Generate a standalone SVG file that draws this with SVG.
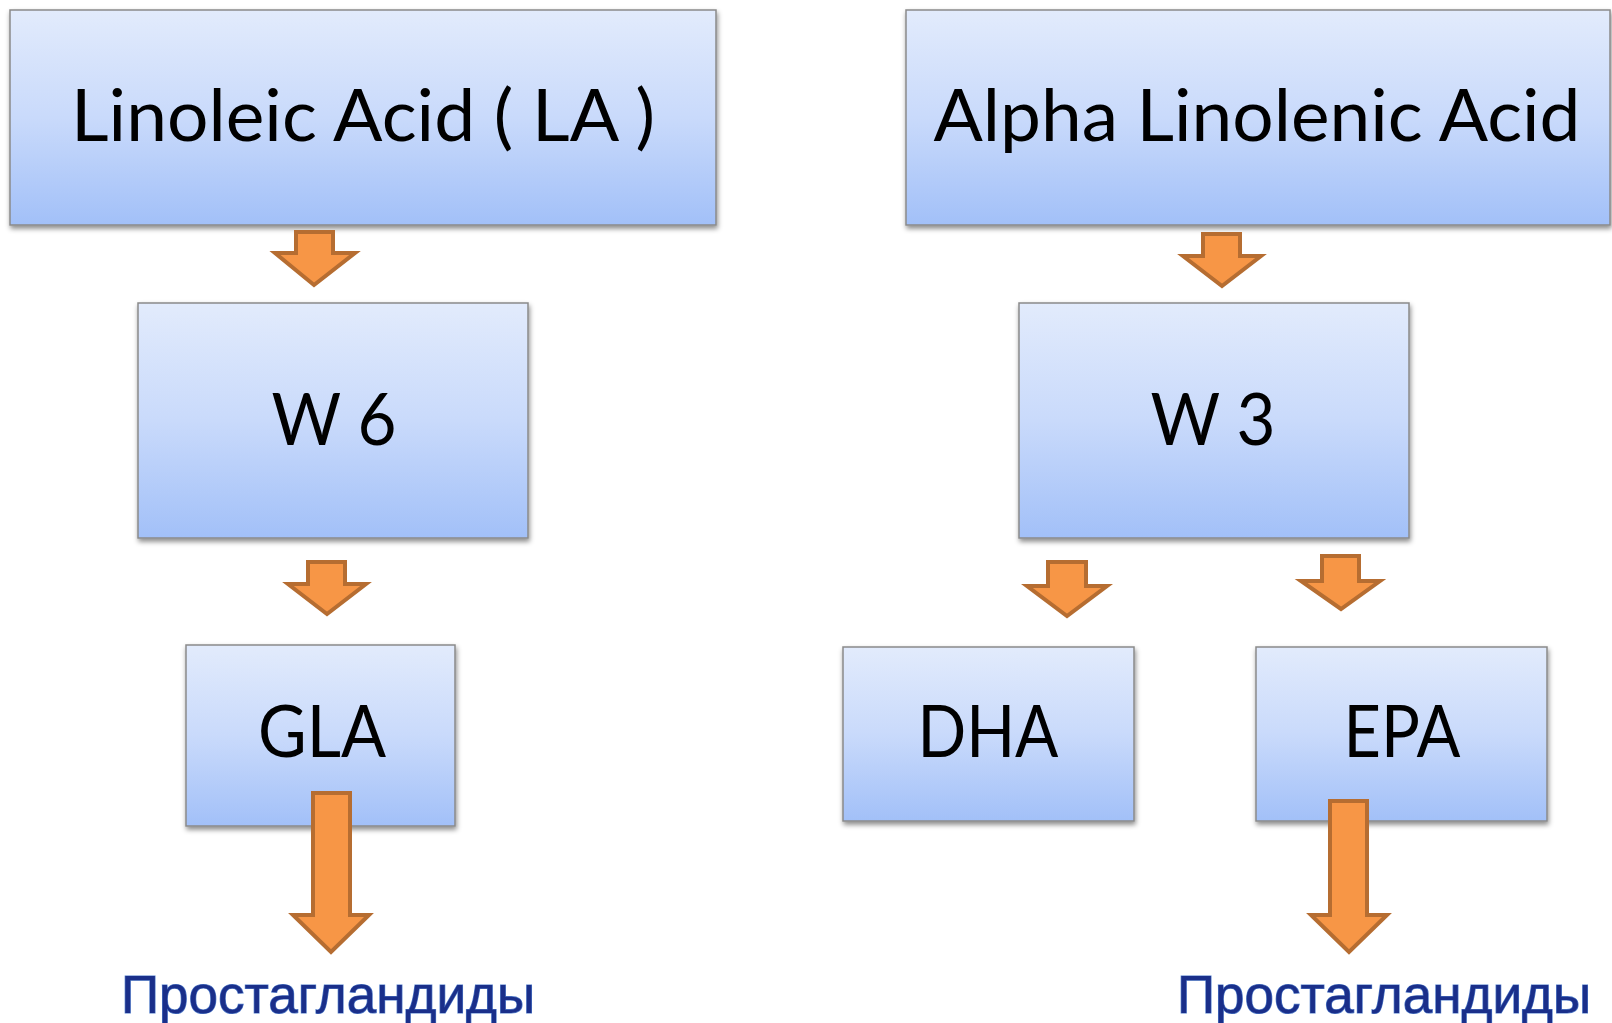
<svg xmlns="http://www.w3.org/2000/svg" width="1612" height="1023" viewBox="0 0 1612 1023">
<defs>
<linearGradient id="g" x1="0" y1="0" x2="0" y2="1">
<stop offset="0" stop-color="#E2EBFC"/>
<stop offset="0.5" stop-color="#C9DAFB"/>
<stop offset="1" stop-color="#A2C0F8"/>
</linearGradient>
<filter id="sh" x="-5%" y="-5%" width="110%" height="115%">
<feDropShadow dx="1" dy="3" stdDeviation="2.5" flood-color="#000" flood-opacity="0.45"/>
</filter>
</defs>
<style>
.box{fill:url(#g);stroke:#8A8A8A;stroke-width:1.5;filter:url(#sh)}
.t{font-family:Lato,"Open Sans","Noto Sans",sans-serif;font-size:71px;fill:#000;text-anchor:middle}
.arr{fill:#F79646;stroke:#B66D31;stroke-width:4;stroke-linejoin:miter}
.pg{font-family:"Liberation Sans",Arial,sans-serif;font-size:53px;fill:#1A2F8A;stroke:#5580CC;stroke-width:1.2;paint-order:stroke;text-anchor:middle}
</style>
<rect width="1612" height="1023" fill="#fff"/>
<g id="node-la"><rect class="box" x="10" y="10" width="706" height="215"/><text class="t" x="363" y="141" textLength="584" lengthAdjust="spacingAndGlyphs">Linoleic Acid ( LA )</text></g>
<g id="node-ala"><rect class="box" x="906" y="10" width="704" height="215"/><text class="t" x="1257" y="141" textLength="647" lengthAdjust="spacingAndGlyphs">Alpha Linolenic Acid</text></g>
<g id="node-w6"><rect class="box" x="138" y="303" width="390" height="235"/><text class="t" x="334" y="445" textLength="125" lengthAdjust="spacingAndGlyphs">W 6</text></g>
<g id="node-w3"><rect class="box" x="1019" y="303" width="390" height="235"/><text class="t" x="1213" y="445" textLength="125" lengthAdjust="spacingAndGlyphs">W 3</text></g>
<g id="node-gla"><rect class="box" x="186" y="645" width="269" height="181"/><text class="t" x="322" y="757" textLength="128" lengthAdjust="spacingAndGlyphs">GLA</text></g>
<g id="node-dha"><rect class="box" x="843" y="647" width="291" height="174"/><text class="t" x="988" y="757" textLength="141" lengthAdjust="spacingAndGlyphs">DHA</text></g>
<g id="node-epa"><rect class="box" x="1256" y="647" width="291" height="174"/><text class="t" x="1402" y="757" textLength="117" lengthAdjust="spacingAndGlyphs">EPA</text></g>
<g id="connectors">
<polygon class="arr" points="296,232 333,232 333,253 355,253 314,285 275,253 296,253"/>
<polygon class="arr" points="308,562 345,562 345,584 366,584 327,614 288,584 308,584"/>
<polygon class="arr" points="1203,234 1240,234 1240,256 1261,256 1222,286 1183,256 1203,256"/>
<polygon class="arr" points="1048,562 1086,562 1086,586 1107,586 1067,616 1027,586 1048,586"/>
<polygon class="arr" points="1322,556 1359,556 1359,581 1380,581 1341,609 1301,581 1322,581"/>
<polygon class="arr" points="313,793 350,793 350,915 369,915 331,952 293,915 313,915"/>
<polygon class="arr" points="1330,801 1367,801 1367,915 1387,915 1349,952 1311,915 1330,915"/>
</g>
<g id="label-left"><text class="pg" x="328" y="1013">Простагландиды</text></g>
<g id="label-right"><text class="pg" x="1384" y="1013">Простагландиды</text></g>
</svg>
